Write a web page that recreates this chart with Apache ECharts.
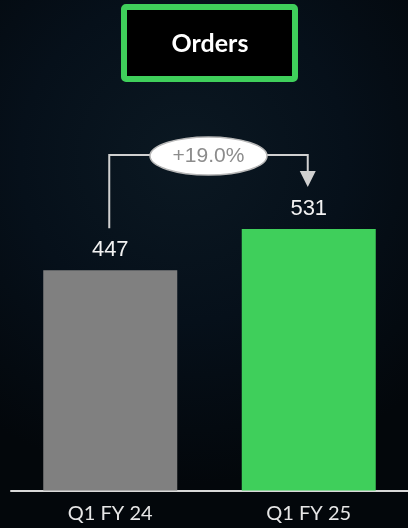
<!DOCTYPE html>
<html>
<head>
<meta charset="utf-8">
<script src="https://cdn.jsdelivr.net/npm/echarts@6/dist/echarts.min.js"></script>
<style>
html,body{margin:0;padding:0;background:#04090f;}
#chart{width:408px;height:528px;}
</style>
</head>
<body>
<div id="chart"></div>
<script>
const titleText = 'Orders';
const categories = ['Q1 FY 24', 'Q1 FY 25'];
const orderValues = [447, 531];
const barColors = ['#808080', '#3fcf5b'];
const growthLabel = '+19.0%';

const chart = echarts.init(document.getElementById('chart'));

const option = {
  backgroundColor: {
    type: 'radial', x: 0.45, y: 0.3, r: 0.8,
    colorStops: [
      { offset: 0, color: '#0b1822' },
      { offset: 0.5, color: '#06101a' },
      { offset: 1, color: '#03070b' }
    ]
  },
  animation: false,
  grid: { left: 11, right: -3, top: 96.5, bottom: 37.5 },
  xAxis: {
    type: 'category',
    data: categories,
    axisLine: { show: true, lineStyle: { color: '#d9d9d9', width: 2 } },
    axisTick: { show: false },
    axisLabel: { color: '#e6e6e6', fontFamily: 'Lato', fontSize: 20, margin: 13 }
  },
  yAxis: {
    type: 'value', min: 0, max: 800,
    show: false,
    splitLine: { show: false }
  },
  series: [{
    type: 'bar',
    barWidth: 134,
    data: orderValues.map((v, i) => ({ value: v, itemStyle: { color: barColors[i] } })),
    label: {
      show: true, position: 'top', distance: 9,
      color: '#f2f2f2', fontFamily: 'Liberation Sans', fontSize: 22
    }
  }]
};
chart.setOption(option);

// Annotation bracket computed from chart scales
const p0 = chart.convertToPixel({ seriesIndex: 0 }, [0, orderValues[0]]);
const p1 = chart.convertToPixel({ seriesIndex: 0 }, [1, orderValues[1]]);
const lx = p0[0] - 1, rx = p1[0] - 1;
const hy = p1[1] - 74;
const ly = p0[1] - 42;
const tipY = p1[1] - 42;
const midX = (lx + rx) / 2;
const lineColor = '#d0d0d0';
chart.setOption({
  graphic: [
    {
      id: 'titleBox', type: 'rect',
      shape: { x: 124, y: 7, width: 171, height: 72, r: 2 },
      style: { fill: '#000000', stroke: '#3fcf5b', lineWidth: 6 }
    },
    {
      id: 'titleText', type: 'text',
      x: 210, y: 44,
      style: {
        text: titleText, fill: '#ffffff', font: 'bold 25px Lato',
        textAlign: 'center', textVerticalAlign: 'middle'
      }
    },
    {
      id: 'bracket', type: 'polyline',
      shape: { points: [[lx, ly], [lx, hy], [rx, hy], [rx, tipY - 14]] },
      style: { stroke: lineColor, lineWidth: 2, fill: null }
    },
    {
      id: 'arrow', type: 'polygon',
      shape: { points: [[rx - 8, tipY - 16], [rx + 8, tipY - 16], [rx, tipY]] },
      style: { fill: lineColor }
    },
    {
      id: 'bubble', type: 'ellipse',
      shape: { cx: midX, cy: hy + 1, rx: 58.5, ry: 19 },
      style: { fill: '#ffffff', stroke: '#b8b8b8', lineWidth: 1.5 }
    },
    {
      id: 'bubbleText', type: 'text',
      x: midX, y: hy + 1,
      style: {
        text: growthLabel, fill: '#8c8c8c', font: '21px "Liberation Sans"',
        textAlign: 'center', textVerticalAlign: 'middle'
      }
    }
  ]
});
</script>
</body>
</html>
